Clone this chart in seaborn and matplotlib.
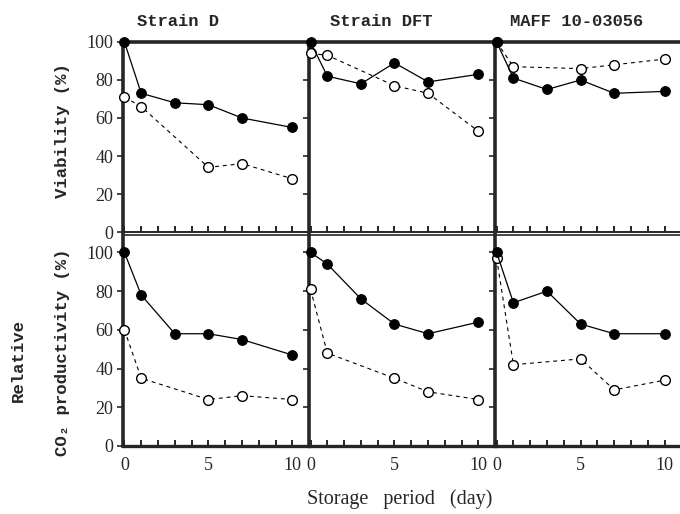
import matplotlib
matplotlib.use('Agg')
import matplotlib.pyplot as plt
import seaborn as sns

# --- datos ---
strains = ['Strain D', 'Strain DFT', 'MAFF 10-03056']
days_filled = [0, 1, 3, 5, 7, 10]
days_open = [0, 1, 5, 7, 10]

viab_D_filled = [100, 73, 68, 67, 60, 55]
viab_D_open = [71, 66, 34, 36, 28]
viab_DFT_filled = [100, 82, 78, 89, 79, 83]
viab_DFT_open = [94, 93, 77, 73, 53]
viab_MAFF_filled = [100, 81, 75, 80, 73, 74]
viab_MAFF_open = [100, 87, 86, 88, 91]

co2_D_filled = [100, 78, 58, 58, 55, 47]
co2_D_open = [60, 35, 24, 26, 24]
co2_DFT_filled = [100, 94, 76, 63, 58, 64]
co2_DFT_open = [81, 48, 35, 28, 24]
co2_MAFF_filled = [100, 74, 80, 63, 58, 58]
co2_MAFF_open = [97, 42, 45, 29, 34]

y_ticks = [0, 20, 40, 60, 80, 100]
x_ticks = list(range(0, 11))
x_tick_labels = ['0', '', '', '', '', '5', '', '', '', '', '10']

sns.set_style('ticks')
plt.rcParams['font.family'] = ['Liberation Serif', 'DejaVu Serif']
MONO = ['Liberation Mono', 'DejaVu Sans Mono']

fig, axes = plt.subplots(2, 3, figsize=(6.8, 5.14), dpi=100,
                         gridspec_kw={'height_ratios': [0.3697, 0.4105]})
fig.subplots_adjust(left=0.181, right=1.002, bottom=0.1323, top=0.9183,
                    wspace=0, hspace=0.015)

rows = [
    [(viab_D_filled, viab_D_open), (viab_DFT_filled, viab_DFT_open),
     (viab_MAFF_filled, viab_MAFF_open)],
    [(co2_D_filled, co2_D_open), (co2_DFT_filled, co2_DFT_open),
     (co2_MAFF_filled, co2_MAFF_open)],
]

for r in range(2):
    for c in range(3):
        ax = axes[r, c]
        filled, abierto = rows[r][c]
        sns.lineplot(x=days_open, y=abierto, ax=ax, color='black', lw=0.8,
                     linestyle=(0, (3.5, 3.5)), marker='o', markersize=7,
                     markerfacecolor='white', markeredgecolor='black',
                     markeredgewidth=1.0, sort=False, estimator=None,
                     clip_on=False, zorder=3)
        sns.lineplot(x=days_filled, y=filled, ax=ax, color='black', lw=0.9,
                     marker='o', markersize=7, markerfacecolor='black',
                     markeredgecolor='black', sort=False, estimator=None,
                     clip_on=False, zorder=4)

        ax.set_xlim(-0.08, 11.0)
        ax.set_ylim(0, 100 if r == 0 else 109)
        ax.set_yticks(y_ticks)
        ax.set_xticks(x_ticks)
        ax.tick_params(axis='x', direction='in', length=4, width=1.4, pad=8)
        ax.tick_params(axis='y', direction='out', length=4, width=1.2, pad=3)
        ax.set_xlabel('')
        ax.set_ylabel('')

        ax.spines['right'].set_visible(False)
        ax.spines['left'].set_linewidth(2.6)
        if r == 0:
            ax.spines['top'].set_linewidth(2.6)
            ax.spines['bottom'].set_linewidth(1.4)
            ax.set_xticklabels([])
        else:
            ax.spines['top'].set_linewidth(1.2)
            ax.spines['bottom'].set_linewidth(2.4)
            ax.set_xticklabels(x_tick_labels, fontsize=13)
        if c == 0:
            ax.set_yticklabels([str(v) for v in y_ticks], fontsize=13)
        else:
            ax.set_yticklabels([])

# titulos de cada cepa
title_x = [137, 330, 510]
for nombre, px in zip(strains, title_x):
    fig.text(px / 680, 1 - 22 / 514, nombre, ha='left', va='center',
             fontsize=12.3, family=MONO, weight='bold')

fig.text(63 / 680, 1 - 131 / 514, 'Viability (%)', rotation=90,
         ha='center', va='center', fontsize=12.5, family=MONO, weight='bold')
fig.text(62 / 680, 1 - 352 / 514, 'CO₂ productivity (%)', rotation=90,
         ha='center', va='center', fontsize=12.5, family=MONO, weight='bold')
fig.text(18 / 680, 1 - 361 / 514, 'Relative', rotation=90,
         ha='center', va='center', fontsize=12.5, family=MONO, weight='bold')
fig.text(400 / 680, 1 - 499 / 514, 'Storage   period   (day)',
         ha='center', va='center', fontsize=14.5)

plt.savefig('out.png', dpi=100)
plt.close()
